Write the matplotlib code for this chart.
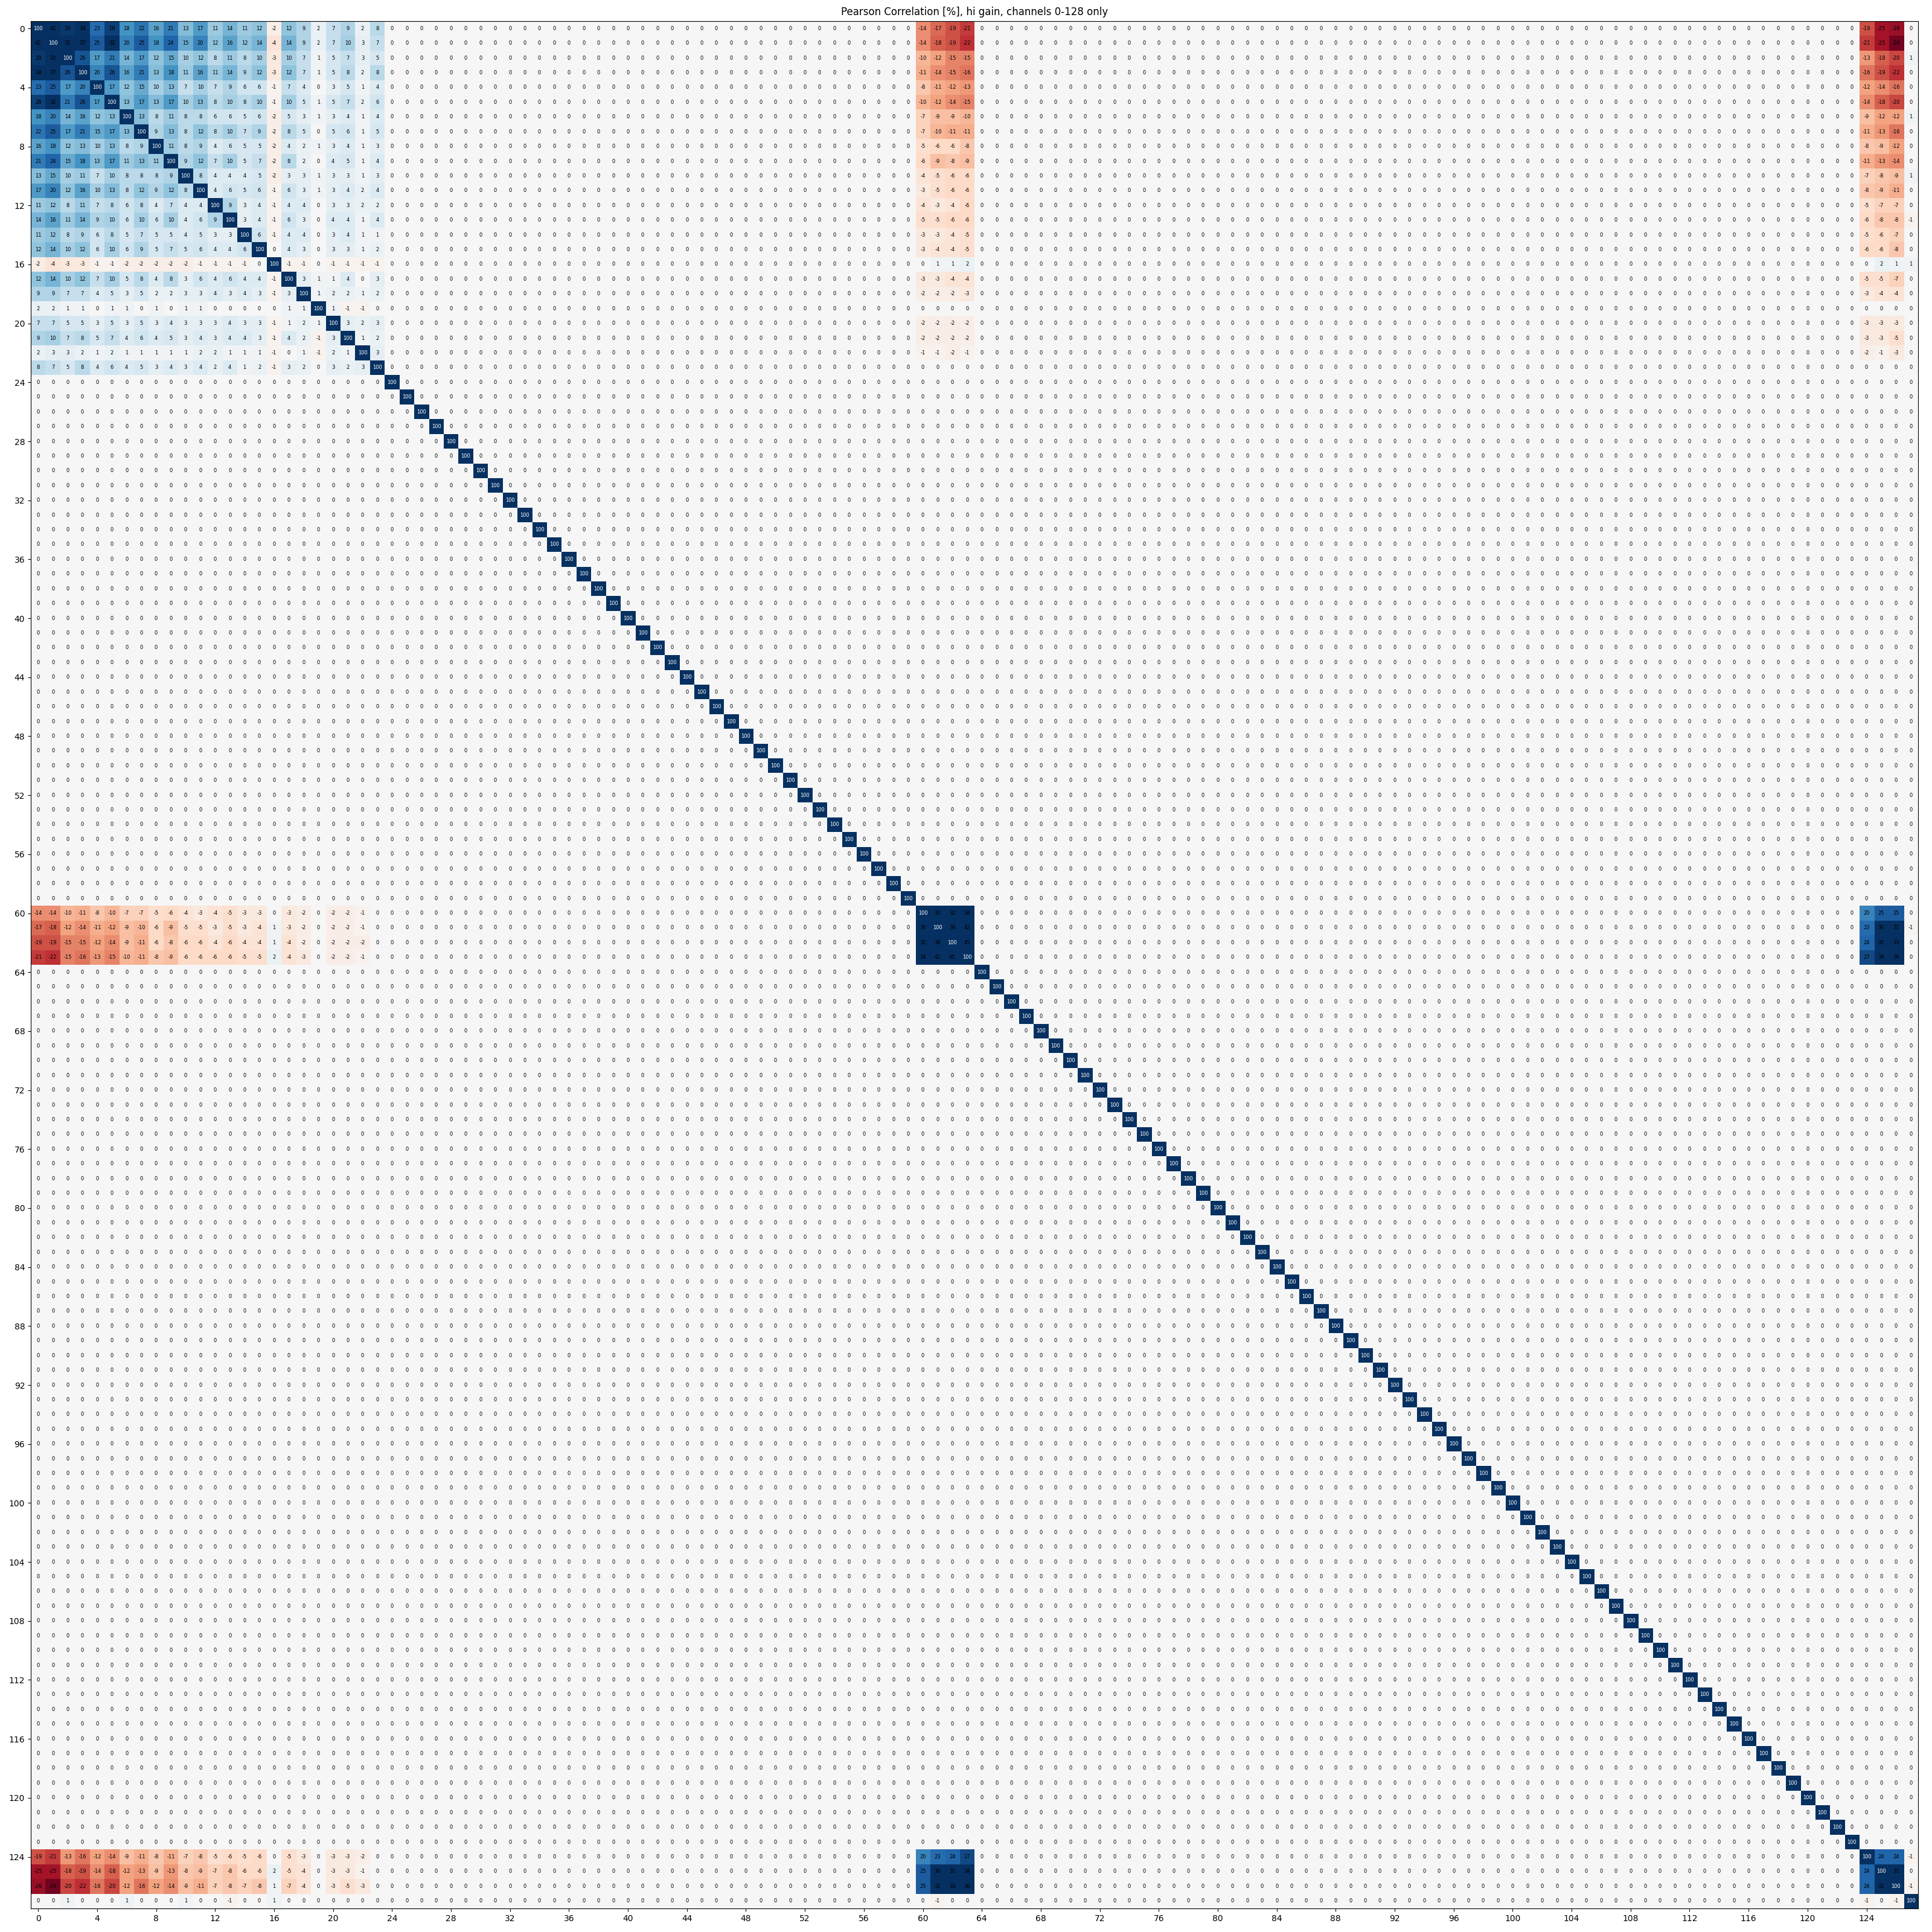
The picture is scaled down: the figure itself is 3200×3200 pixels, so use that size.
import numpy as np
import matplotlib
matplotlib.use("Agg")
import matplotlib.pyplot as plt

N_CHANNELS = 128
TITLE = "Pearson Correlation [%], hi gain, channels 0-128 only"
TICK_LABELS = list(range(0, 128, 4))

# channels 0-23 against channels 0-23
block_a = [
 [100,42,29,34,23,28,18,22,16,21,13,17,11,14,11,12,-2,12,9,2,7,9,2,8],
 [42,100,32,37,25,32,20,25,18,24,15,20,12,16,12,14,-4,14,9,2,7,10,3,7],
 [29,32,100,26,17,21,14,17,12,15,10,12,8,11,8,10,-3,10,7,1,5,7,3,5],
 [34,37,26,100,20,26,16,21,13,18,11,16,11,14,9,12,-3,12,7,1,5,8,2,8],
 [23,25,17,20,100,17,12,15,10,13,7,10,7,9,6,6,-1,7,4,0,3,5,1,4],
 [28,32,21,26,17,100,13,17,13,17,10,13,8,10,8,10,-1,10,5,1,5,7,2,6],
 [18,20,14,16,12,13,100,13,8,11,8,8,6,6,5,6,-2,5,3,1,3,4,1,4],
 [22,25,17,21,15,17,13,100,9,13,8,12,8,10,7,9,-2,8,5,0,5,6,1,5],
 [16,18,12,13,10,13,8,9,100,11,8,9,4,6,5,5,-2,4,2,1,3,4,1,3],
 [21,24,15,18,13,17,11,13,11,100,9,12,7,10,5,7,-2,8,2,0,4,5,1,4],
 [13,15,10,11,7,10,8,8,8,9,100,8,4,4,4,5,-2,3,3,1,3,3,1,3],
 [17,20,12,16,10,13,8,12,9,12,8,100,4,6,5,6,-1,6,3,1,3,4,2,4],
 [11,12,8,11,7,8,6,8,4,7,4,4,100,9,3,4,-1,4,4,0,3,3,2,2],
 [14,16,11,14,9,10,6,10,6,10,4,6,9,100,3,4,-1,6,3,0,4,4,1,4],
 [11,12,8,9,6,8,5,7,5,5,4,5,3,3,100,6,-1,4,4,0,3,4,1,1],
 [12,14,10,12,6,10,6,9,5,7,5,6,4,4,6,100,0,4,3,0,3,3,1,2],
 [-2,-4,-3,-3,-1,-1,-2,-2,-2,-2,-2,-1,-1,-1,-1,0,100,-1,-1,0,-1,-1,-1,-1],
 [12,14,10,12,7,10,5,8,4,8,3,6,4,6,4,4,-1,100,3,1,1,4,0,3],
 [9,9,7,7,4,5,3,5,2,2,3,3,4,3,4,3,-1,3,100,1,2,2,1,2],
 [2,2,1,1,0,1,1,0,1,0,1,1,0,0,0,0,0,1,1,100,1,-1,-1,0],
 [7,7,5,5,3,5,3,5,3,4,3,3,3,4,3,3,-1,1,2,1,100,3,2,3],
 [9,10,7,8,5,7,4,6,4,5,3,4,3,4,4,3,-1,4,2,-1,3,100,1,2],
 [2,3,3,2,1,2,1,1,1,1,1,2,2,1,1,1,-1,0,1,-1,2,1,100,3],
 [8,7,5,8,4,6,4,5,3,4,3,4,2,4,1,2,-1,3,2,0,3,2,3,100],
]
# channels 0-23 against channels 60-63
block_a_b = [
 [-14,-17,-19,-21],[-14,-18,-19,-22],[-10,-12,-15,-15],[-11,-14,-15,-16],
 [-8,-11,-12,-13],[-10,-12,-14,-15],[-7,-9,-9,-10],[-7,-10,-11,-11],
 [-5,-6,-6,-8],[-6,-9,-8,-9],[-4,-5,-6,-6],[-3,-5,-6,-6],
 [-4,-3,-4,-6],[-5,-5,-6,-6],[-3,-3,-4,-5],[-3,-4,-4,-5],
 [0,1,1,2],[-3,-3,-4,-4],[-2,-2,-2,-3],[0,0,0,0],
 [-2,-2,-2,-2],[-2,-2,-2,-2],[-1,-1,-2,-1],[0,0,0,0],
]
# channels 0-23 against channels 124-127
block_a_c = [
 [-19,-25,-26,0],[-21,-25,-29,0],[-13,-18,-20,1],[-16,-19,-22,0],
 [-12,-14,-16,0],[-14,-18,-20,0],[-9,-12,-12,1],[-11,-13,-16,0],
 [-8,-9,-12,0],[-11,-13,-14,0],[-7,-8,-9,1],[-8,-9,-11,0],
 [-5,-7,-7,0],[-6,-8,-8,-1],[-5,-6,-7,0],[-6,-6,-8,0],
 [0,2,1,1],[-5,-5,-7,0],[-3,-4,-4,0],[0,0,0,0],
 [-3,-3,-3,0],[-3,-3,-5,0],[-2,-1,-3,0],[0,0,0,0],
]
# channels 60-63 against channels 60-63
block_b = [[100,30,32,34],[30,100,38,42],[32,38,100,45],[34,42,45,100]]
# channels 60-63 against channels 124-127
block_b_c = [[20,25,25,0],[23,30,31,-1],[24,31,33,0],[27,34,36,0]]
# channels 124-127 against channels 124-127
block_c = [[100,24,24,-1],[24,100,31,0],[24,31,100,-1],[-1,0,-1,100]]

corr = np.eye(N_CHANNELS) * 100
a, b, c = np.arange(24), np.arange(60, 64), np.arange(124, 128)
def put(rows, cols, vals):
    vals = np.array(vals, dtype=float)
    corr[np.ix_(rows, cols)] = vals
    corr[np.ix_(cols, rows)] = vals.T
put(a, b, block_a_b)
put(a, c, block_a_c)
put(b, c, block_b_c)
corr[np.ix_(a, a)] = block_a
corr[np.ix_(b, b)] = block_b
corr[np.ix_(c, c)] = block_c

fig = plt.figure(figsize=(32, 32), dpi=100)
ax = fig.add_axes([51/3200, 1 - 3161/3200, 3126/3200, 3126/3200])
ax.imshow(corr, cmap="RdBu", vmin=-30, vmax=30, interpolation="nearest", aspect="equal")
ax.set_xticks(TICK_LABELS)
ax.set_yticks(TICK_LABELS)
ax.tick_params(labelsize=10)
ax.set_title(TITLE, fontsize=12, pad=7)
for i in range(N_CHANNELS):
    for j in range(N_CHANNELS):
        v = corr[i, j]
        ax.text(j, i, f"{v:.0f}", ha="center", va="center", fontsize=6,
                color="white" if v > 50 else "black")
fig.savefig("out.png", dpi=100)
